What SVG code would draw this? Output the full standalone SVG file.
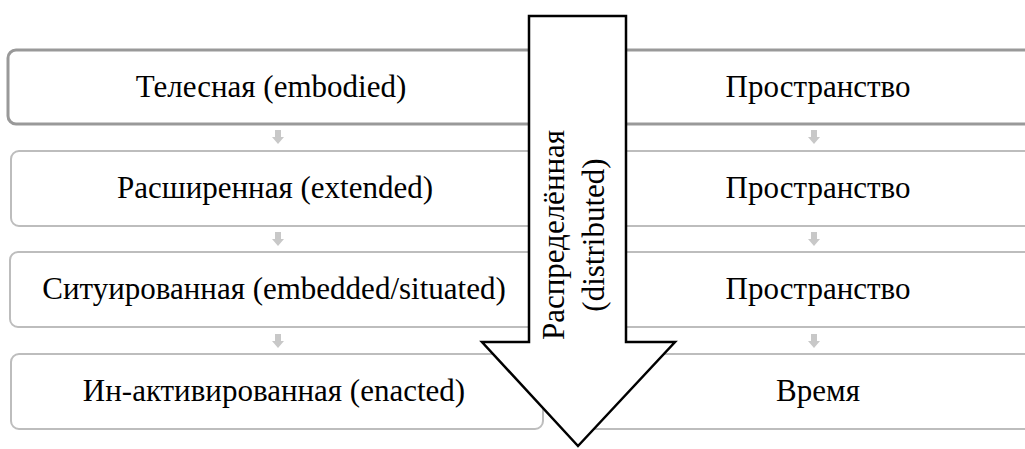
<svg xmlns="http://www.w3.org/2000/svg" width="1025" height="449" viewBox="0 0 1025 449">
  <style>
    .box { fill: #ffffff; stroke: #bdbdbd; stroke-width: 2; }
    .box.first { stroke: #999999; stroke-width: 3; }
    .lbl { font-family: "Liberation Serif", serif; font-size: 31px; fill: #000000; text-anchor: middle; }
    .step { fill: #c8c8c8; }
    .big { fill: #ffffff; stroke: #000000; stroke-width: 2.5; stroke-linejoin: miter; }
  </style>
  <defs>
    <path id="step" class="step" d="M -3 0 H 3 V 7 H 6 L 0 14 L -6 7 H -3 Z"/>
  </defs>

  <!-- left column: kinds of cognition -->
  <g id="node-embodied">
    <rect class="box first" x="8" y="50" width="560" height="74" rx="8"/>
    <text class="lbl" x="271" y="97">Телесная (embodied)</text>
  </g>
  <g id="node-extended">
    <rect class="box" x="11" y="151" width="532" height="75" rx="8"/>
    <text class="lbl" x="275" y="198">Расширенная (extended)</text>
  </g>
  <g id="node-situated">
    <rect class="box" x="10" y="252" width="533" height="75" rx="8"/>
    <text class="lbl" x="274" y="299">Ситуированная (embedded/situated)</text>
  </g>
  <g id="node-enacted">
    <rect class="box" x="11" y="354" width="532" height="75" rx="8"/>
    <text class="lbl" x="274" y="401">Ин-активированная (enacted)</text>
  </g>

  <!-- right column: dimensions -->
  <g id="node-space-1">
    <rect class="box first" x="570" y="50" width="480" height="74" rx="8"/>
    <text class="lbl" x="818" y="97">Пространство</text>
  </g>
  <g id="node-space-2">
    <rect class="box" x="570" y="151" width="480" height="75" rx="8"/>
    <text class="lbl" x="818" y="198">Пространство</text>
  </g>
  <g id="node-space-3">
    <rect class="box" x="570" y="252" width="480" height="75" rx="8"/>
    <text class="lbl" x="818" y="299">Пространство</text>
  </g>
  <g id="node-time">
    <rect class="box" x="570" y="354" width="480" height="75" rx="8"/>
    <text class="lbl" x="818" y="401">Время</text>
  </g>

  <!-- small step arrows between rows -->
  <g id="connectors">
    <use href="#step" x="278" y="130"/>
    <use href="#step" x="278" y="232"/>
    <use href="#step" x="278" y="334"/>
    <use href="#step" x="814" y="130"/>
    <use href="#step" x="814" y="232"/>
    <use href="#step" x="814" y="334"/>
  </g>

  <!-- large downward arrow -->
  <g id="node-distributed">
    <polygon class="big" points="529,16 626,16 626,342 675,342 578,446 482,342 529,342"/>
    <g transform="translate(578,235) rotate(-90)">
      <text class="lbl" x="0" y="-14">Распределённая</text>
      <text class="lbl" x="0" y="26">(distributed)</text>
    </g>
  </g>
</svg>
